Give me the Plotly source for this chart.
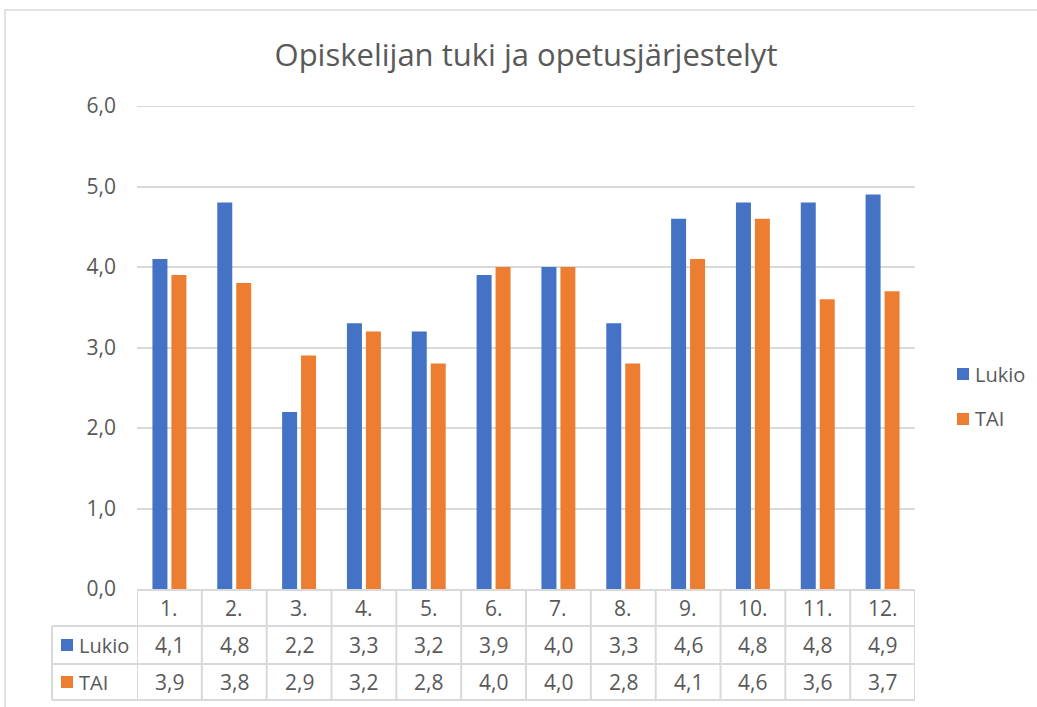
import plotly.graph_objects as go

categories = ["1.", "2.", "3.", "4.", "5.", "6.", "7.", "8.", "9.", "10.", "11.", "12."]
lukio = [4.1, 4.8, 2.2, 3.3, 3.2, 3.9, 4.0, 3.3, 4.6, 4.8, 4.8, 4.9]
tai = [3.9, 3.8, 2.9, 3.2, 2.8, 4.0, 4.0, 2.8, 4.1, 4.6, 3.6, 3.7]
series_names = ["Lukio", "TAI"]
series_values = [lukio, tai]
series_colors = ["#4472C4", "#ED7D31"]
title_text = "Opiskelijan tuki ja opetusjärjestelyt"

W, H = 1037, 707
L, R, T, B = 137, 122, 106, 118
PW, PH = W - L - R, H - T - B
FONT = "Open Sans"
TXT = "#595959"
GRID = "#d9d9d9"


def xp(px):
    return (px - L) / PW


def yp(py):
    return (H - B - py) / PH


def fmt(v):
    return f"{v:.1f}".replace(".", ",")


fig = go.Figure()
for name, vals, col in zip(series_names, series_values, series_colors):
    fig.add_trace(go.Bar(x=categories, y=vals, name=name, marker=dict(color=col, line=dict(width=0)),
                         showlegend=False))

shapes = []
annotations = []

# Outer chart border
shapes.append(dict(type="rect", xref="paper", yref="paper", x0=xp(5), x1=xp(1045), y0=yp(715), y1=yp(10),
                   line=dict(color=GRID, width=1.5), layer="below"))

# Top gridline (6,0)
shapes.append(dict(type="line", xref="paper", yref="y", x0=0, x1=1, y0=6, y1=6,
                   line=dict(color=GRID, width=2), layer="below"))

# Data table lines
row_top, row1, row2, row_bot = 589, 626, 664, 700
left_edge = 52
for k in range(len(categories) + 1):
    shapes.append(dict(type="line", xref="x", yref="paper", x0=k - 0.5, x1=k - 0.5,
                       y0=yp(row_top), y1=yp(row_bot), line=dict(color=GRID, width=2)))
for yy in (row1, row2, row_bot):
    shapes.append(dict(type="line", xref="paper", yref="paper", x0=xp(left_edge), x1=1,
                       y0=yp(yy), y1=yp(yy), line=dict(color=GRID, width=2)))
shapes.append(dict(type="line", xref="paper", yref="paper", x0=xp(left_edge), x1=xp(left_edge),
                   y0=yp(row1), y1=yp(row_bot), line=dict(color=GRID, width=2)))

# Header row
for i, c in enumerate(categories):
    annotations.append(dict(x=i, xref="x", y=yp((row_top + row1) / 2), yref="paper", text=c,
                            showarrow=False, font=dict(family=FONT, size=21, color=TXT),
                            xanchor="center", yanchor="middle"))

# Value rows with legend keys
row_centers = [(row1 + row2) / 2, (row2 + row_bot) / 2]
for name, vals, col, rc in zip(series_names, series_values, series_colors, row_centers):
    for i, v in enumerate(vals):
        annotations.append(dict(x=i, xref="x", y=yp(rc), yref="paper", text=fmt(v),
                                showarrow=False, font=dict(family=FONT, size=21, color=TXT),
                                xanchor="center", yanchor="middle"))
    shapes.append(dict(type="rect", xref="paper", yref="paper", x0=xp(61), x1=xp(73),
                       y0=yp(rc + 6), y1=yp(rc - 6), fillcolor=col, line=dict(width=0)))
    annotations.append(dict(x=xp(77), xref="paper", y=yp(rc), yref="paper", text=name,
                            showarrow=False, font=dict(family=FONT, size=20, color=TXT),
                            xanchor="left", yanchor="middle"))

# Legend
legend_centers = [374, 419]
for name, col, lc in zip(series_names, series_colors, legend_centers):
    shapes.append(dict(type="rect", xref="paper", yref="paper", x0=xp(957), x1=xp(969),
                       y0=yp(lc + 6), y1=yp(lc - 6), fillcolor=col, line=dict(width=0)))
    annotations.append(dict(x=xp(973), xref="paper", y=yp(lc), yref="paper", text=name,
                            showarrow=False, font=dict(family=FONT, size=20, color=TXT),
                            xanchor="left", yanchor="middle"))

fig.update_layout(
    width=W, height=H,
    margin=dict(l=L, r=R, t=T, b=B, pad=0),
    paper_bgcolor="white", plot_bgcolor="white",
    separators=", ",
    barmode="group", bargap=0.415, bargroupgap=0.21,
    title=dict(text=title_text, x=0.5, xref="paper", y=1 - 55 / H, yref="container",
               xanchor="center", yanchor="middle", font=dict(family=FONT, size=31, color=TXT)),
    xaxis=dict(type="category", range=[-0.5, len(categories) - 0.5], showticklabels=False,
               ticks="", showgrid=False, showline=True, linecolor=GRID, linewidth=2, zeroline=False),
    yaxis=dict(range=[0, 6], dtick=1, tickformat=".1f", showgrid=True, gridcolor=GRID, gridwidth=2,
               zeroline=False, showline=False, ticks="", ticklabelstandoff=20,
               tickfont=dict(family=FONT, size=21, color=TXT)),
    shapes=shapes, annotations=annotations,
    font=dict(family=FONT, color=TXT),
)

fig.write_html("out.html", config={"displayModeBar": False},
               post_script="document.body.style.margin='0px';document.body.style.overflow='hidden';")
